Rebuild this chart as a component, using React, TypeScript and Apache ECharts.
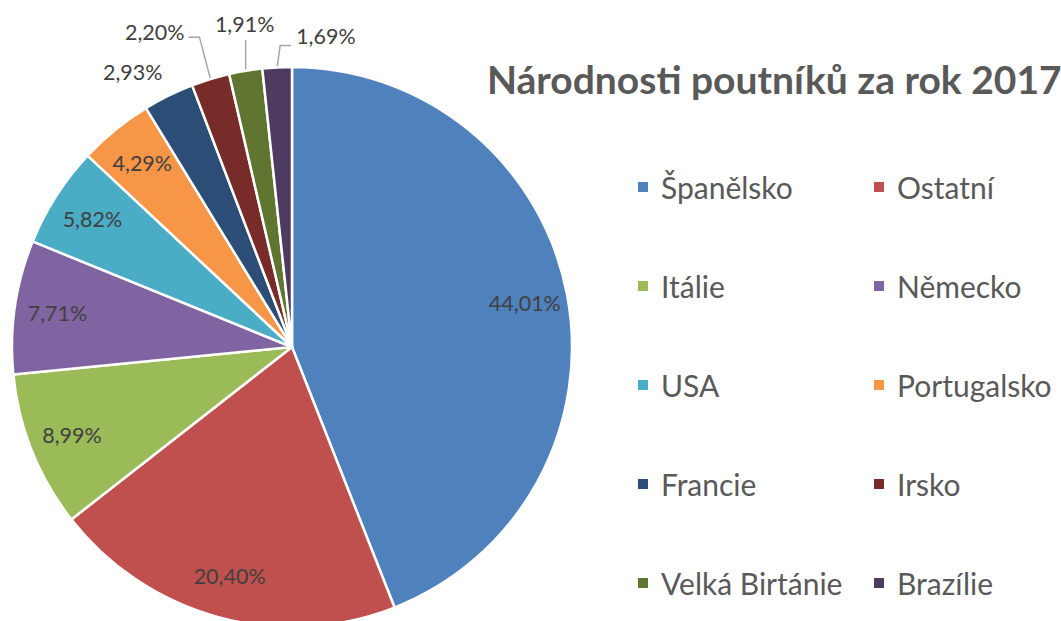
import React, { useEffect, useRef } from 'react';
import * as echarts from 'echarts';

const categories = ['Španělsko', 'Ostatní', 'Itálie', 'Německo', 'USA', 'Portugalsko', 'Francie', 'Irsko', 'Velká Birtánie', 'Brazílie'];
const shares = [44.01, 20.40, 8.99, 7.71, 5.82, 4.29, 2.93, 2.20, 1.91, 1.69];
const colors = ['#4F81BD', '#C0504D', '#9BBB59', '#8064A2', '#4BACC6', '#F79646', '#2C4D75', '#772C2A', '#5F7530', '#4D3B62'];
const legendCol1 = ['Španělsko', 'Itálie', 'USA', 'Francie', 'Velká Birtánie'];
const legendCol2 = ['Ostatní', 'Německo', 'Portugalsko', 'Irsko', 'Brazílie'];
const titleText = 'Národnosti poutníků za rok 2017';

// label placement tweaks (offsets from the slice's outer edge point)
const outsideLayout: Record<string, { elbow: number[]; end: number[]; text: number[]; align: string; line: boolean }> = {
  'Francie': { elbow: [0, 0], end: [0, 0], text: [-6, -24], align: 'right', line: false },
  'Irsko': { elbow: [-11, -42], end: [-22, -42], text: [-26, -47], align: 'right', line: true },
  'Velká Birtánie': { elbow: [0, -31], end: [0, -31], text: [-1, -47], align: 'center', line: true },
  'Brazílie': { elbow: [3, -22], end: [14, -22], text: [19, -31], align: 'left', line: true },
};

const FONT = 'Lato, "Open Sans", sans-serif';
const fmt = (v: number) => v.toFixed(2).replace('.', ',') + '%';

export default function App() {
  const ref = useRef<HTMLDivElement>(null);
  useEffect(() => {
    if (!ref.current) return;
    const chart = echarts.init(ref.current, null, { renderer: 'svg' });
    const center = [292, 347];
    const visualData = categories.map((name, i) => {
      const t = outsideLayout[name];
      const d: any = { name, value: shares[i], itemStyle: { color: colors[i] } };
      if (t) {
        d.label = { show: true, position: 'outside', overflow: 'none' };
        d.labelLine = { show: t.line };
      }
      return d;
    });
    const labelData = categories.map((name, i) => ({
      name,
      value: shares[i],
      label: { show: !outsideLayout[name] },
    }));
    const legendBase = {
      orient: 'vertical',
      itemGap: 69,
      itemWidth: 12,
      itemHeight: 12,
      icon: 'rect',
      selectedMode: false,
      textStyle: { fontSize: 30, color: '#595959', fontFamily: FONT, lineHeight: 30, padding: [0, 0, 0, 7] },
    };
    chart.setOption({
      animation: false,
      title: {
        text: titleText,
        left: 482,
        top: 54,
        textStyle: { fontSize: 39, fontWeight: 'bold', color: '#595959', fontFamily: FONT },
      },
      legend: [
        { ...legendBase, data: legendCol1, left: 631, top: 167 },
        { ...legendBase, data: legendCol2, left: 867, top: 167 },
      ],
      series: [
        {
          type: 'pie',
          center,
          radius: 280,
          startAngle: 90,
          clockwise: true,
          data: visualData,
          itemStyle: { borderColor: '#ffffff', borderWidth: 2.5 },
          label: {
            show: false,
            fontSize: 21.5,
            color: '#404040',
            fontFamily: FONT,
            overflow: 'none',
            formatter: (p: any) => fmt(p.value),
          },
          labelLine: { show: false, lineStyle: { color: '#A6A6A6', width: 1.5 } },
          labelLayout: (params: any) => {
            const name = categories[params.dataIndex];
            const t = outsideLayout[name];
            if (!t || !params.labelLinePoints) return {};
            const [x0, y0] = params.labelLinePoints[0];
            return {
              x: x0 + t.text[0],
              y: y0 + t.text[1],
              align: t.align,
              verticalAlign: 'middle',
              width: 80,
              labelLinePoints: [
                [x0, y0],
                [x0 + t.elbow[0], y0 + t.elbow[1]],
                [x0 + t.end[0], y0 + t.end[1]],
              ],
            };
          },
          emphasis: { disabled: true },
        },
        {
          type: 'pie',
          center,
          radius: [188, 280],
          startAngle: 90,
          clockwise: true,
          silent: true,
          data: labelData,
          itemStyle: { color: 'rgba(0,0,0,0)', borderWidth: 0 },
          label: {
            position: 'inside',
            fontSize: 21.5,
            color: '#404040',
            fontFamily: FONT,
            formatter: (p: any) => fmt(p.value),
          },
          labelLine: { show: false },
          emphasis: { disabled: true },
        },
      ],
    } as any);
    return () => chart.dispose();
  }, []);
  return (
    <div
      ref={ref}
      style={{ position: 'fixed', left: 0, top: 0, width: 1061, height: 621, background: '#ffffff' }}
    />
  );
}
